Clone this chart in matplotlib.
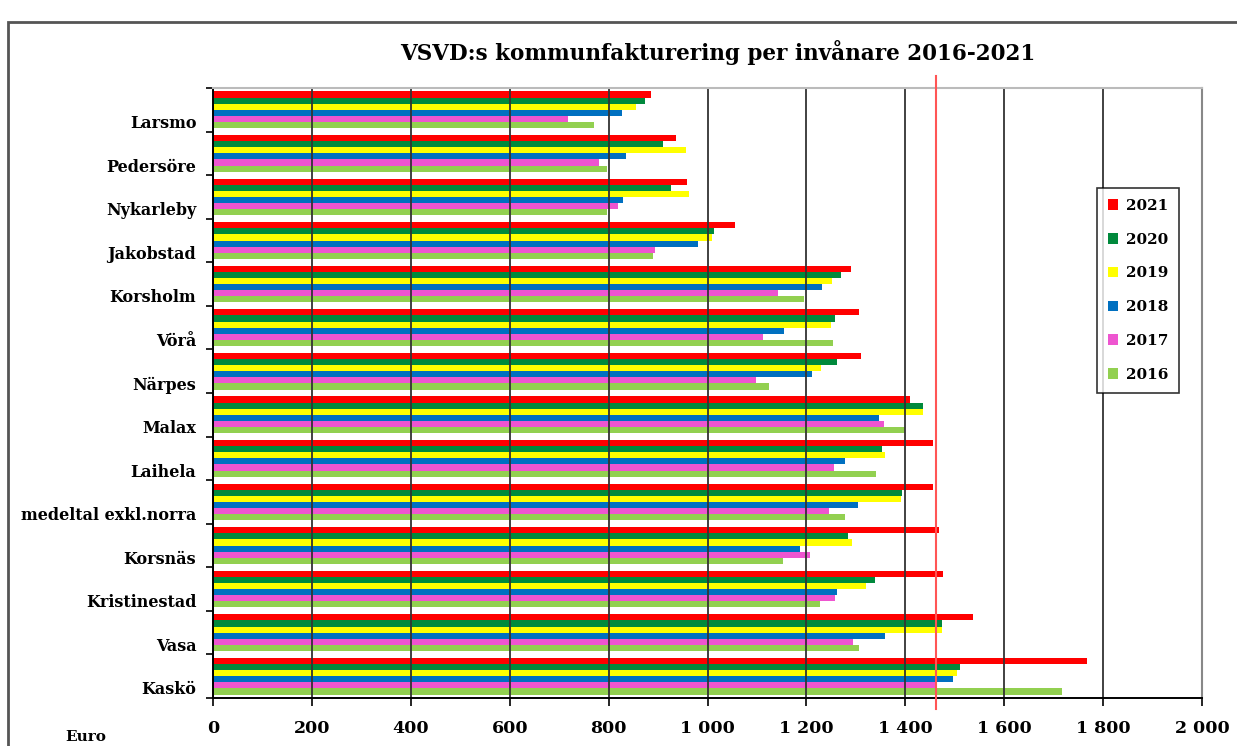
import matplotlib
matplotlib.use("Agg")
import matplotlib.pyplot as plt
from matplotlib.patches import Patch, Rectangle
import numpy as np

# Kommuner, uppifrån och ned som i diagrammet
kommuner = ["Larsmo", "Pedersöre", "Nykarleby", "Jakobstad", "Korsholm", "Vörå",
            "Närpes", "Malax", "Laihela", "medeltal exkl.norra", "Korsnäs",
            "Kristinestad", "Vasa", "Kaskö"]

years = ["2021", "2020", "2019", "2018", "2017", "2016"]

v2021 = [886, 936, 959, 1056, 1291, 1307, 1311, 1410, 1457, 1457, 1469, 1477, 1537, 1768]
v2020 = [873, 909, 927, 1013, 1269, 1258, 1262, 1436, 1352, 1394, 1285, 1338, 1474, 1511]
v2019 = [856, 956, 962, 1009, 1251, 1249, 1229, 1436, 1358, 1391, 1292, 1321, 1474, 1504]
v2018 = [827, 836, 830, 980, 1231, 1155, 1211, 1347, 1278, 1305, 1188, 1262, 1358, 1496]
v2017 = [718, 780, 820, 893, 1142, 1112, 1098, 1357, 1256, 1245, 1208, 1258, 1295, 1463]
v2016 = [771, 796, 796, 889, 1195, 1254, 1124, 1400, 1341, 1278, 1152, 1228, 1306, 1717]

# referenslinje (röd lodrät linje)
ref_value = 1463

xticks = list(range(0, 2001, 200))
xticklabels = ["0", "200", "400", "600", "800", "1 000", "1 200", "1 400", "1 600", "1 800", "2 000"]

colors = ["#FF0000", "#00893C", "#FFFF00", "#0070C0", "#EE55D0", "#92D050"]
series = [v2021, v2020, v2019, v2018, v2017, v2016]

font = "DejaVu Serif"
plt.rcParams["font.family"] = font
plt.rcParams["font.weight"] = "bold"

fig = plt.figure(figsize=(12.37, 7.46), dpi=100)
ax = fig.add_axes([213 / 1237, 48 / 746, 989 / 1237, 610 / 746])

pos = np.arange(len(kommuner))
h = 0.14
for j, (vals, c, yr) in enumerate(zip(series, colors, years)):
    ax.barh(pos + (j - 2.5) * h, vals, height=h, color=c, label=yr, linewidth=0, zorder=1)

ax.set_xlim(0, 2000)
ax.set_ylim(len(kommuner) - 0.5, -0.5)

ax.set_xticks(xticks)
ax.set_xticklabels(xticklabels, fontsize=12.5, fontweight="bold")
ax.tick_params(axis="x", direction="out", length=6, width=1.2, pad=10, color="black")

ax.set_yticks(pos + 0.27)
ax.set_yticklabels(kommuner, fontsize=11.5, fontweight="bold")
ax.tick_params(axis="y", which="major", length=0, pad=12)
ax.set_yticks(np.arange(-0.5, len(kommuner), 1.0), minor=True)
ax.tick_params(axis="y", which="minor", direction="out", length=5, width=1.2)

ax.grid(axis="x", color="#333333", linewidth=1.3)

ax.spines["left"].set_color("black")
ax.spines["left"].set_linewidth(1.4)
ax.spines["bottom"].set_color("black")
ax.spines["bottom"].set_linewidth(1.4)
ax.spines["top"].set_color("#BBBBBB")
ax.spines["top"].set_linewidth(1.5)
ax.spines["right"].set_color("#888888")
ax.spines["right"].set_linewidth(1.5)

ax.axvline(ref_value, ymin=-0.018, ymax=1.019, color="#FF5555", linewidth=1.5,
           clip_on=False, zorder=3)

fig.suptitle("VSVD:s kommunfakturering per invånare 2016-2021", x=718 / 1237, y=1 - 52 / 746,
             va="center", fontsize=15.5, fontweight="bold")

fig.text(86 / 1237, 1 - 737 / 746, "Euro", ha="center", va="center", fontsize=11, fontweight="bold")

handles = [Patch(facecolor=c, edgecolor="none", label=yr) for c, yr in zip(colors, years)]
leg = fig.legend(handles=handles, loc="upper left", bbox_to_anchor=(1097 / 1237, 1 - 188 / 746),
                 frameon=True, fancybox=False, shadow=False, fontsize=11,
                 handlelength=0.7, handleheight=0.7, handletextpad=0.5,
                 labelspacing=1.3, borderpad=0.7, borderaxespad=0)
leg.get_frame().set_edgecolor("black")
leg.get_frame().set_linewidth(1.2)
for t in leg.get_texts():
    t.set_fontweight("bold")

fig.patches.append(Rectangle((8 / 1237, -0.1), 1.2, 1.1 - 22 / 746, transform=fig.transFigure,
                             fill=False, edgecolor="#555555", linewidth=2))

fig.savefig("out.png", dpi=100)
